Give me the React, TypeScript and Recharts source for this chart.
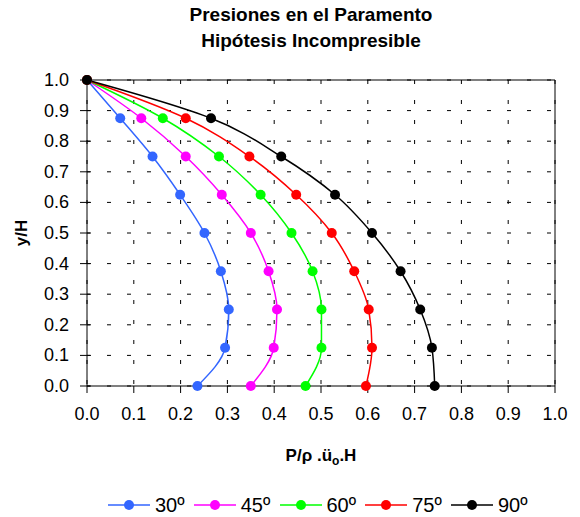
import { LineChart, Line, XAxis, YAxis, CartesianGrid, Legend, ReferenceLine, Label } from "recharts";

// y/H levels (top to bottom) and P/(rho.ü0.H) per angle
const yLevels = [1.0, 0.875, 0.75, 0.625, 0.5, 0.375, 0.25, 0.125, 0.0];
const p30 = [0, 0.071, 0.14, 0.199, 0.251, 0.286, 0.303, 0.295, 0.236];
const p45 = [0, 0.116, 0.211, 0.288, 0.35, 0.388, 0.406, 0.399, 0.35];
const p60 = [0, 0.162, 0.282, 0.371, 0.437, 0.482, 0.501, 0.501, 0.467];
const p75 = [0, 0.211, 0.347, 0.447, 0.523, 0.571, 0.602, 0.609, 0.596];
const p90 = [0, 0.265, 0.415, 0.53, 0.609, 0.67, 0.712, 0.737, 0.743];

const seriesNames = ["30º", "45º", "60º", "75º", "90º"];
const seriesColors = ["#3366FF", "#FF00FF", "#00FF00", "#FF0000", "#000000"];
const seriesKeys = ["a30", "a45", "a60", "a75", "a90"];
const axisTicks = [0, 0.1, 0.2, 0.3, 0.4, 0.5, 0.6, 0.7, 0.8, 0.9, 1.0];

const rows = yLevels.map((y, i) => ({
  y,
  a30: p30[i],
  a45: p45[i],
  a60: p60[i],
  a75: p75[i],
  a90: p90[i],
}));

const FONT = "Arial, 'Liberation Sans', sans-serif";

function YTick(props: any) {
  const { x, y, payload } = props;
  const axisX = x + 7 + 11;
  return (
    <g>
      <line x1={axisX - 7} x2={axisX + 3} y1={y} y2={y} stroke="#000" />
      <text x={x} y={y} textAnchor="end" dominantBaseline="central" fontSize={18} fill="#000">
        {Number(payload.value).toFixed(1)}
      </text>
    </g>
  );
}

function XTitle(props: any) {
  const vb = props.viewBox;
  return (
    <text x={vb.x + vb.width / 2} y={vb.y + 75} textAnchor="middle" fontWeight="bold" fontSize={17} fill="#000">
      P/ρ .ü<tspan fontSize={12} dy={4}>o</tspan>
      <tspan dy={-4}>.H</tspan>
    </text>
  );
}

function YTitle(props: any) {
  const vb = props.viewBox;
  const cy = vb.y + vb.height / 2;
  return (
    <text x={21} y={cy} transform={`rotate(-90 21 ${cy})`} textAnchor="middle" dominantBaseline="central" fontWeight="bold" fontSize={17} fill="#000">
      y/H
    </text>
  );
}

function LegendRow(props: any) {
  const items = props.payload || [];
  return (
    <div style={{ display: "flex", height: 24, alignItems: "center", paddingLeft: 108 }}>
      {items.map((it: any) => (
        <div key={it.value} style={{ display: "flex", alignItems: "center", width: 85.75 }}>
          <svg width={42} height={12}>
            <line x1={0} x2={42} y1={6} y2={6} stroke={it.color} strokeWidth={1.5} />
            <circle cx={21} cy={6} r={5} fill={it.color} />
          </svg>
          <span style={{ marginLeft: 5, fontSize: 20, color: "#000" }}>{it.value}</span>
        </div>
      ))}
    </div>
  );
}

export default function App() {
  return (
    <div style={{ position: "absolute", left: 0, top: 0, width: 580, height: 517, fontFamily: FONT, background: "#fff" }}>
      <div
        style={{
          position: "absolute",
          top: 2,
          left: 0,
          width: 622,
          textAlign: "center",
          fontWeight: "bold",
          fontSize: 19,
          lineHeight: "26px",
          color: "#000",
        }}
      >
        Presiones en el Paramento
        <br />
        Hipótesis Incompresible
      </div>
      <LineChart
        width={580}
        height={517}
        data={rows}
        layout="vertical"
        margin={{ top: 80, right: 25, bottom: 0, left: 0 }}
      >
        <CartesianGrid stroke="#000" strokeDasharray="4 16" />
        <XAxis
          type="number"
          domain={[0, 1]}
          ticks={axisTicks}
          tickFormatter={(v: number) => v.toFixed(1)}
          height={107}
          tickSize={7}
          tickMargin={14}
          stroke="#000"
          tick={{ fill: "#000", fontSize: 18 }}
        >
          <Label content={XTitle} />
        </XAxis>
        <YAxis
          type="number"
          dataKey="y"
          domain={[0, 1]}
          ticks={axisTicks}
          reversed
          width={87}
          tickSize={7}
          tickMargin={11}
          tickLine={false}
          stroke="#000"
          tick={YTick}
        >
          <Label content={YTitle} />
        </YAxis>
        <ReferenceLine y={1} stroke="#000" />
        <ReferenceLine x={1} stroke="#000" />
        {seriesKeys.map((k, i) => (
          <Line
            key={k}
            dataKey={k}
            name={seriesNames[i]}
            type="monotone"
            stroke={seriesColors[i]}
            strokeWidth={1.5}
            dot={{ r: 5, fill: seriesColors[i], stroke: "none" }}
            isAnimationActive={false}
          />
        ))}
        <Legend verticalAlign="bottom" content={LegendRow} wrapperStyle={{ left: 0, bottom: 0, width: 580 }} />
      </LineChart>
    </div>
  );
}
